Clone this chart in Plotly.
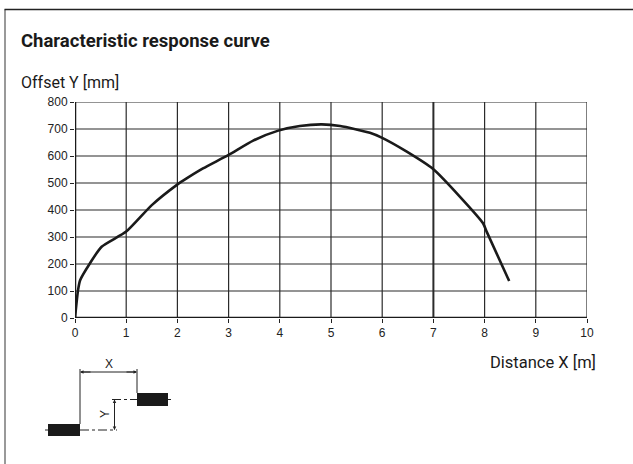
import plotly.graph_objects as go

# ---- data ----
distance_m = [0.0, 0.06, 0.1, 0.29, 0.52, 1.0, 1.5, 1.99, 2.18, 2.5, 3.0, 3.48, 3.97,
              4.39, 4.82, 5.18, 5.76, 5.99, 6.48, 7.0, 7.52, 7.97, 8.04, 8.48]
offset_mm = [0, 104, 140, 202, 264, 320, 418, 493, 517, 554, 604, 657, 694,
             711, 717, 711, 686, 668, 616, 551, 449, 351, 320, 137]
x_ticks = [0, 1, 2, 3, 4, 5, 6, 7, 8, 9, 10]
y_ticks = [0, 100, 200, 300, 400, 500, 600, 700, 800]

W, H = 633, 464
L, R, T, B = 75, 587, 102, 318  # plot area in pixels

NARROW = "Roboto, Liberation Sans Narrow, sans-serif"
NORMAL = "Liberation Sans, Arial, sans-serif"


def px(x):
    return (x - L) / (R - L)


def py(y):
    return (B - y) / (B - T)


fig = go.Figure()
fig.add_trace(go.Scatter(x=distance_m, y=offset_mm, mode="lines",
                         line=dict(color="#1a1a1a", width=2.6, shape="spline", smoothing=0.6),
                         hoverinfo="skip", showlegend=False))

shapes = []
# grid lines
for xv in x_ticks[1:]:
    shapes.append(dict(type="line", xref="x", yref="y", x0=xv, x1=xv, y0=0, y1=800,
                       line=dict(color="#2b2b2b", width=2 if xv == 7 else 1.2), layer="below"))
for yv in y_ticks[1:]:
    shapes.append(dict(type="line", xref="x", yref="y", x0=0, x1=10, y0=yv, y1=yv,
                       line=dict(color="#2b2b2b", width=1.2), layer="below"))
# axes
shapes.append(dict(type="line", xref="x", yref="y", x0=0, x1=0, y0=0, y1=800,
                   line=dict(color="#1a1a1a", width=2.5)))
shapes.append(dict(type="line", xref="x", yref="y", x0=0, x1=10, y0=0, y1=0,
                   line=dict(color="#1a1a1a", width=2.5)))

# outer frame (left and top)
shapes.append(dict(type="line", xref="paper", yref="paper", x0=px(5), x1=px(5), y0=py(9.5), y1=py(464),
                   line=dict(color="#777777", width=1.5)))
shapes.append(dict(type="line", xref="paper", yref="paper", x0=px(4.5), x1=px(633), y0=py(9.5), y1=py(9.5),
                   line=dict(color="#222222", width=1.5)))


# ---- sensor diagram ----
def seg(x0, y0, x1, y1, dash="solid", width=1, color="#222222"):
    shapes.append(dict(type="line", xref="paper", yref="paper", x0=px(x0), y0=py(y0), x1=px(x1), y1=py(y1),
                       line=dict(color=color, width=width, dash=dash)))


def box(x0, y0, x1, y1):
    shapes.append(dict(type="rect", xref="paper", yref="paper", x0=px(x0), y0=py(y0), x1=px(x1), y1=py(y1),
                       fillcolor="#1a1a1a", line=dict(color="#1a1a1a", width=0)))


box(48, 424, 80, 436)
box(137, 393, 168, 406)
seg(45, 430, 48, 430)
seg(80, 430, 117, 430, dash="dashdot")
seg(112, 399.5, 137, 399.5, dash="dashdot")
seg(168, 399.5, 171, 399.5)
seg(80, 369, 80, 424)
seg(137, 369, 137, 393)
seg(81, 372, 136, 372)
seg(114.5, 400, 114.5, 429.5)

annotations = [
    dict(text="<b>Characteristic response curve</b>", x=px(19), y=py(41), xref="paper", yref="paper",
         xanchor="left", yanchor="middle", showarrow=False, font=dict(family=NARROW, size=18.5, color="#1a1a1a")),
    dict(text="Offset Y [mm]", x=px(19), y=py(83), xref="paper", yref="paper",
         xanchor="left", yanchor="middle", showarrow=False, font=dict(family=NARROW, size=16, color="#1a1a1a")),
    dict(text="Distance X [m]", x=px(598), y=py(362), xref="paper", yref="paper",
         xanchor="right", yanchor="middle", showarrow=False, font=dict(family=NARROW, size=16.5, color="#1a1a1a")),
    dict(text="X", x=px(108.5), y=py(364), xref="paper", yref="paper",
         xanchor="center", yanchor="middle", showarrow=False, font=dict(family=NORMAL, size=12, color="#1a1a1a")),
    dict(text="Y", x=px(105), y=py(414), xref="paper", yref="paper", textangle=-90,
         xanchor="center", yanchor="middle", showarrow=False, font=dict(family=NORMAL, size=12, color="#1a1a1a")),
]
# dimension arrowheads (tail offsets in pixels)
for (xa, ya, xb, yb) in [(80, 372, 92, 372), (137, 372, 125, 372),
                         (114.5, 399.5, 114.5, 410), (114.5, 430, 114.5, 419)]:
    annotations.append(dict(x=px(xa), y=py(ya), ax=xb - xa, ay=yb - ya, xref="paper", yref="paper",
                            axref="pixel", ayref="pixel", showarrow=True, arrowhead=2, arrowsize=0.7,
                            arrowwidth=1, arrowcolor="#222222", text=""))

fig.update_layout(
    width=W, height=H,
    margin=dict(l=L, r=W - R, t=T, b=H - B),
    paper_bgcolor="white", plot_bgcolor="white",
    shapes=shapes, annotations=annotations,
    xaxis=dict(range=[0, 10], tickvals=x_ticks, ticktext=[str(v) for v in x_ticks],
               showgrid=False, zeroline=False, showline=False, ticks="outside", ticklen=4,
               tickcolor="#222222", tickfont=dict(family=NORMAL, size=12, color="#222222")),
    yaxis=dict(range=[0, 800], tickvals=y_ticks, ticktext=[str(v) for v in y_ticks],
               showgrid=False, zeroline=False, showline=False, ticks="outside", ticklen=4,
               tickcolor="#222222", tickfont=dict(family=NORMAL, size=12, color="#222222")),
    showlegend=False,
)

fig.write_html("out.html", config={"displayModeBar": False},
               post_script="document.body.style.margin='0';document.body.style.overflow='hidden';"
                           "document.documentElement.style.overflow='hidden';")
